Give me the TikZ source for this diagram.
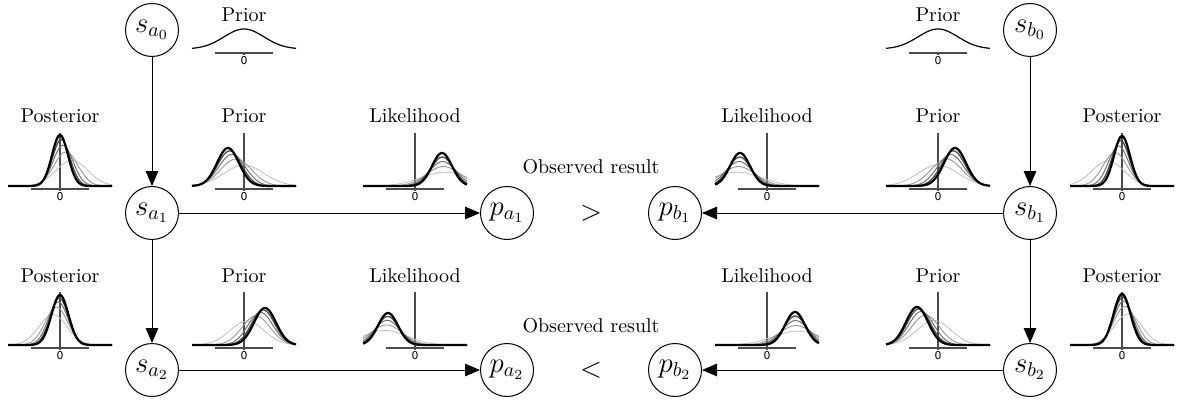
\documentclass[tikz,border=0pt]{standalone}
\usepackage{fontspec}
\newfontfamily\tickfont{DejaVu Sans}
\usetikzlibrary{arrows.meta}
\newcommand{\gseries}[7]{% #1 cx, #2 by, #3 mu0, #4 s0, #5 mu1, #6 s1, #7 H
  \foreach \f/\col/\lw in {1/black!25/0.4pt,0.5/black!40/0.45pt,0.25/black!55/0.5pt,0.1/black!70/0.65pt,0/black/1.1pt}{
    \pgfmathsetmacro\gmu{#5+((#3)-(#5))*\f}
    \pgfmathsetmacro\gsg{#6+((#4)-(#6))*\f}
    \pgfmathsetmacro\gam{#7*(#6)/\gsg}
    \draw[color=\col,line width=\lw,line join=round] plot[domain=-52:52,samples=90,smooth] ({#1+\x},{#2-\gam*exp(-((\x-(\gmu))*(\x-(\gmu)))/(2*\gsg*\gsg))});
  }
}
\newcommand{\miniplot}[9]{% #1 name, #2 cx, #3 by, #4 title, #5 mu0, #6 s0, #7 mu1, #8 s1, #9 H
  \node[title] (#1t) at (#2,#3-63) {#4};
  \draw[axisline] (#2,#3-53) -- (#2,#3+3);
  \draw[axisline] (#2-29,#3+3) -- (#2+29,#3+3);
  \draw[axisline] (#2,#3+3) -- (#2,#3+5);
  \node[zerolab] (#1z) at (#2,#3+6) {0};
  \gseries{#2}{#3}{#5}{#6}{#7}{#8}{#9}
}
\begin{document}
\begin{tikzpicture}[x=0.5pt,y=-0.5pt,
  state/.style={circle,draw,line width=0.5pt,minimum size=26.5pt,inner sep=0pt,font=\Large},
  conn/.style={line width=0.45pt,-{Triangle[length=7.5pt,width=6.3pt]}},
  title/.style={anchor=base,inner sep=0pt},
  axisline/.style={black!70,line width=0.55pt},
  zerolab/.style={font=\tickfont\fontsize{5.4}{6}\selectfont,inner sep=0pt,anchor=north}
]
\useasboundingbox (0,0) rectangle (1177,401);

% state nodes
\node[state] (sa0) at (152,30) {$s_{a_0}$};
\node[state] (sa1) at (152,213) {$s_{a_1}$};
\node[state] (sa2) at (152,370) {$s_{a_2}$};
\node[state] (pa1) at (507,213) {$p_{a_1}$};
\node[state] (pa2) at (507,370) {$p_{a_2}$};
\node[state] (pb1) at (675,213) {$p_{b_1}$};
\node[state] (pb2) at (675,370) {$p_{b_2}$};
\node[state] (sb0) at (1030,30) {$s_{b_0}$};
\node[state] (sb1) at (1030,213) {$s_{b_1}$};
\node[state] (sb2) at (1030,370) {$s_{b_2}$};

\node[font=\Large] (gt) at (591,213) {$>$};
\node[font=\Large] (lt) at (591,370) {$<$};
\node[title] (obs1) at (591,173) {Observed result};
\node[title] (obs2) at (591,332) {Observed result};

% connectors
\draw[conn] (sa0) -- (sa1);
\draw[conn] (sa1) -- (sa2);
\draw[conn] (sa1) -- (pa1);
\draw[conn] (sa2) -- (pa2);
\draw[conn] (sb0) -- (sb1);
\draw[conn] (sb1) -- (sb2);
\draw[conn] (sb1) -- (pb1);
\draw[conn] (sb2) -- (pb2);

% top priors
\node[title] (pria0t) at (244,22) {Prior};
\draw[axisline] (215,53) -- (273,53);
\draw[axisline] (244,53) -- (244,55);
\node[zerolab] (pria0z) at (244,56) {0};
\draw[black,line width=0.6pt] plot[domain=-52:52,samples=90,smooth] ({244+\x},{49-20*exp(-(\x*\x)/800)});
\node[title] (prib0t) at (938,22) {Prior};
\draw[axisline] (909,53) -- (967,53);
\draw[axisline] (938,53) -- (938,55);
\node[zerolab] (prib0z) at (938,56) {0};
\draw[black,line width=0.6pt] plot[domain=-52:52,samples=90,smooth] ({938+\x},{49-20*exp(-(\x*\x)/800)});

% row 1 plots
\miniplot{posta1}{60}{186}{Posterior}{12}{16}{0}{8}{51}
\miniplot{pria1}{244}{186}{Prior}{0}{20}{-16}{11}{38}
\miniplot{lika1}{415}{186}{Likelihood}{30}{24}{27}{10}{33}
\miniplot{likb1}{767}{186}{Likelihood}{-30}{24}{-27}{10}{33}
\miniplot{prib1}{938}{186}{Prior}{0}{20}{17}{11}{38}
\miniplot{postb1}{1122}{186}{Posterior}{-14}{16}{0}{8}{50}
% row 2 plots
\miniplot{posta2}{60}{345}{Posterior}{-7}{14}{0}{8.5}{50}
\miniplot{pria2}{244}{345}{Prior}{3}{17}{21}{11}{37}
\miniplot{lika2}{415}{345}{Likelihood}{-30}{22}{-27}{10}{32}
\miniplot{likb2}{767}{345}{Likelihood}{30}{24}{28}{10}{33}
\miniplot{prib2}{938}{345}{Prior}{-4}{17}{-21}{11}{38}
\miniplot{postb2}{1122}{345}{Posterior}{6}{14}{0}{8.5}{51}
\end{tikzpicture}
\end{document}
